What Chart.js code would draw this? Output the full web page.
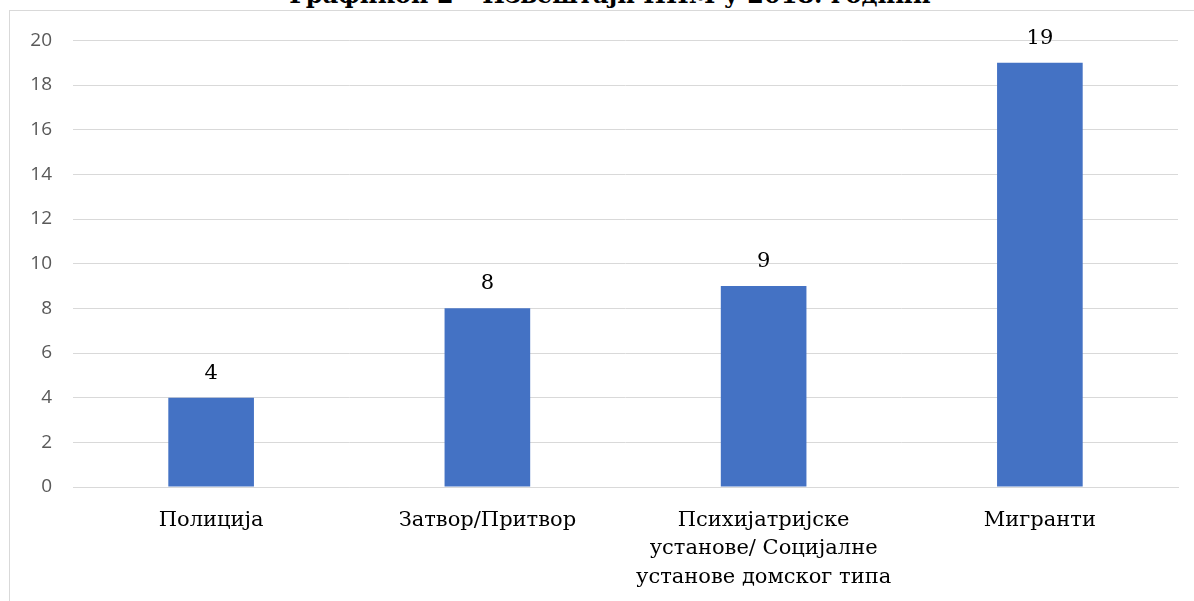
<!DOCTYPE html>
<html>
<head>
<meta charset="utf-8">
<script src="https://cdn.jsdelivr.net/npm/chart.js@4"></script>
<style>
  html, body { margin: 0; padding: 0; background: #fff; overflow: hidden; }
  body { width: 1194px; height: 601px; position: relative; }
  #title {
    position: absolute; left: 0; width: 1220px; top: -20px;
    text-align: center; font: bold 24px "DejaVu Serif", serif; color: #000;
    white-space: nowrap;
  }
  #box {
    position: absolute; left: 9px; top: 10px; width: 1200px; height: 600px;
    border: 1px solid #d9d9d9; background: #fff;
  }
  /* подняли канвас на 3px, чтобы верхняя линия сетки легла на свое место */
  #wrap { position: absolute; left: 0; top: -3px; width: 1184px; height: 593px; }
</style>
</head>
<body>
<div id="title">Графикон 2 – Извештаји НПМ у 2018. години</div>
<div id="box"><div id="wrap"><canvas id="chart"></canvas></div></div>
<script>
const categories = [
  "Полиција",
  "Затвор/Притвор",
  ["Психијатријске", "установе/ Социјалне", "установе домског типа"],
  "Мигранти"
];
const values = [4, 8, 9, 19];
const yTicks = [0, 2, 4, 6, 8, 10, 12, 14, 16, 18, 20];

// подписи над столбцами
const barLabels = {
  id: "barLabels",
  afterDatasetsDraw(chart) {
    const { ctx } = chart;
    const meta = chart.getDatasetMeta(0);
    ctx.save();
    ctx.font = '21px "DejaVu Serif", serif';
    ctx.fillStyle = "#000";
    ctx.textAlign = "center";
    ctx.textBaseline = "bottom";
    meta.data.forEach((bar, i) => {
      ctx.fillText(String(values[i]), bar.x, bar.y - 14);
    });
    ctx.restore();
  }
};

new Chart(document.getElementById("chart"), {
  type: "bar",
  data: {
    labels: categories,
    datasets: [{
      data: values,
      backgroundColor: "#4472C4",
      categoryPercentage: 1,
      barPercentage: 0.31
    }]
  },
  options: {
    responsive: true,
    maintainAspectRatio: false,
    animation: false,
    layout: { padding: { top: 18, right: 16, left: 0, bottom: 0 } },
    plugins: { legend: { display: false }, tooltip: { enabled: false } },
    scales: {
      x: {
        grid: { display: false, drawTicks: false },
        border: { display: true, color: "#d9d9d9" },
        ticks: {
          color: "#000",
          font: { family: '"DejaVu Serif", serif', size: 21, lineHeight: 1.36 },
          padding: 19,
          maxRotation: 0,
          autoSkip: false
        },
        afterFit(scale) { scale.height = 114; }
      },
      y: {
        min: 0, max: 20,
        afterBuildTicks(scale) { scale.ticks = yTicks.map(v => ({ value: v })); },
        grid: { color: "#d9d9d9", drawTicks: false },
        border: { display: false },
        ticks: {
          color: "#595959",
          font: { family: '"Open Sans", sans-serif', size: 19 },
          padding: 21
        },
        afterFit(scale) { scale.width = 63; }
      }
    }
  },
  plugins: [barLabels]
});
</script>
</body>
</html>
